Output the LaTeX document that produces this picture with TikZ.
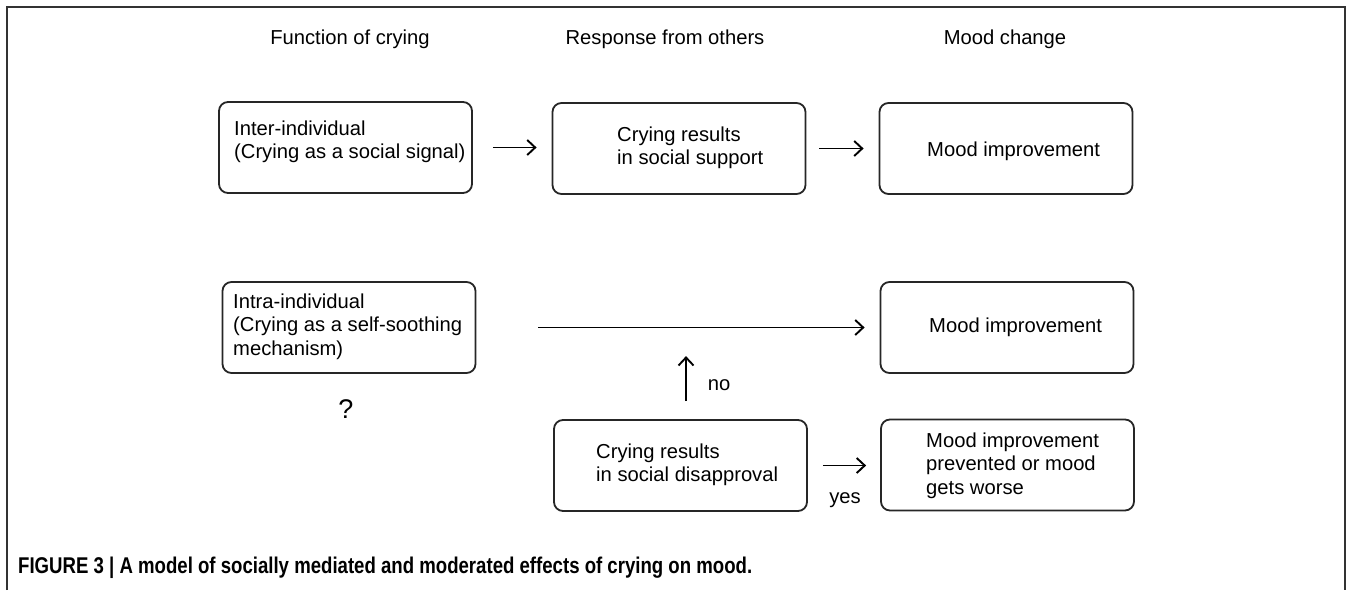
\documentclass[tikz,border=0pt]{standalone}
\usepackage{fontspec}
\setmainfont{Liberation Sans}
\usetikzlibrary{arrows.meta}
\newcommand{\mylines}[1]{\begin{tabular}[t]{@{}l@{}}#1\end{tabular}}
\tikzset{
  box/.style={draw=black!85, line width=1.8pt, rounded corners=9pt, minimum width=253pt, minimum height=91pt, inner sep=0pt},
  txt/.style={anchor=base west, inner sep=0pt, font=\fontsize{20.2}{23.5}\selectfont},
  hdr/.style={anchor=base, inner sep=0pt, font=\fontsize{20.2}{23.5}\selectfont},
  arr/.style={line width=1.9pt, -{Straight Barb[length=8pt,width=15pt,line width=1.9pt]}},
  frame/.style={draw=black!80, line width=1.5pt}
}
\begin{document}
\begin{tikzpicture}[x=1pt,y=-1pt]
\useasboundingbox (0,0) rectangle (1349,590);
\draw[frame] (7,590) -- (7,7) -- (1345,7) -- (1345,590);
% headers
\node[hdr] (h1) at (350,44) {Function of crying};
\node[hdr] (h2) at (665,44) {Response from others};
\node[hdr] (h3) at (1005,44) {Mood change};
% boxes
\node[box] (b1) at (345.5,147.5) {};
\node[box] (b2) at (679,148.5) {};
\node[box] (b3) at (1006,148.5) {};
\node[box] (b4) at (349,327.5) {};
\node[box] (b5) at (1007,327.5) {};
\node[box] (b6) at (680.5,465.5) {};
\node[box] (b7) at (1007.5,465) {};
% texts
\node[txt] (t1) at (234,135) {\mylines{Inter-individual\\(Crying as a social signal)}};
\node[txt] (t2) at (617,141) {\mylines{Crying results\\in social support}};
\node[txt] (t3) at (927,156) {Mood improvement};
\node[txt] (t4) at (233,308) {\mylines{Intra-individual\\(Crying as a self-soothing\\mechanism)}};
\node[txt] (t5) at (929,332) {Mood improvement};
\node[txt] (t6) at (596,458) {\mylines{Crying results\\in social disapproval}};
\node[txt] (t7) at (926,447) {\mylines{Mood improvement\\prevented or mood\\gets worse}};
\node[hdr, font=\fontsize{27}{30}\selectfont] (q) at (346,418) {?};
\node[hdr] (no) at (719,390) {no};
\node[hdr] (yes) at (845,503) {yes};
% arrows
\draw[arr, shorten <=20pt, shorten >=15pt] (b1.east) -- (b1.east -| b2.west);
\draw[arr, shorten <=13pt, shorten >=15pt] (b2.east) -- (b2.east -| b3.west);
\draw[arr, shorten <=62pt, shorten >=15pt] (b4.east) -- (b4.east -| b5.west);
\draw[arr, shorten <=15pt, shorten >=14pt] (b6.east) -- (b6.east -| b7.west);
\coordinate (upstart) at ([xshift=5.5pt,yshift=18pt]b6.north);
\draw[arr] (upstart) -- ++(0,-45);
% caption
\node[anchor=base west, inner sep=0pt] (cap) at (18,573) {\resizebox{734pt}{16.5pt}{\fontsize{22}{24}\selectfont\bfseries FIGURE 3 | A model of socially mediated and moderated effects of crying on mood.}};
\end{tikzpicture}
\end{document}
